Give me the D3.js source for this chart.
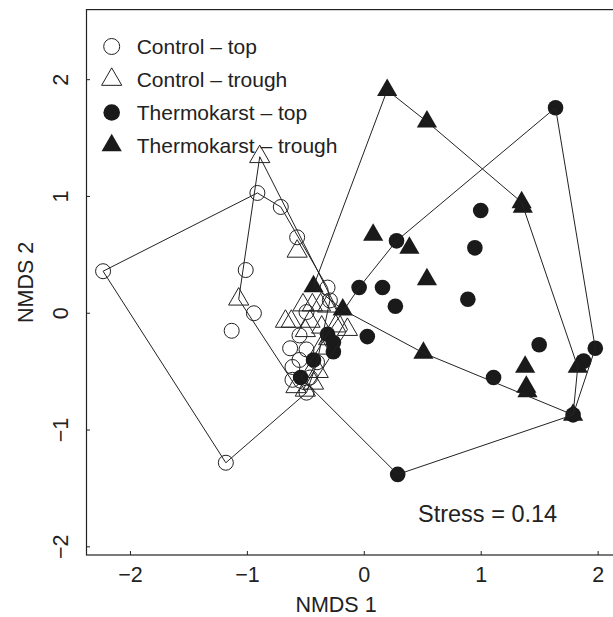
<!DOCTYPE html>
<html>
<head>
<meta charset="utf-8">
<script src="https://cdn.jsdelivr.net/npm/d3@7"></script>
<style>
  body { margin: 0; background: #fff; }
  text { font-family: 'Liberation Sans', Arial, sans-serif; fill: #222; }
  .hull { fill: none; stroke: #222; stroke-width: 1; }
</style>
</head>
<body>
<div id="vis"></div>
<script>

var width = 613,
  height = 617;

var fontSize = 21,
  axisFontSize = 21.5,
  stressFontSize = 23.5;

// NMDS scores, [ NMDS 1, NMDS 2 ]
var controlTop = [
  [ -2.23, 0.36 ], [ -0.91, 1.03 ], [ -0.71, 0.91 ], [ -0.57, 0.65 ], [ -1.01, 0.37 ],
  [ -0.94, 0.00 ], [ -1.13, -0.15 ], [ -1.18, -1.28 ], [ -0.31, 0.22 ], [ -0.29, 0.11 ],
  [ -0.49, 0.01 ], [ -0.55, -0.19 ], [ -0.63, -0.30 ], [ -0.49, -0.31 ], [ -0.61, -0.46 ],
  [ -0.61, -0.57 ], [ -0.46, -0.55 ], [ -0.49, -0.68 ], [ -0.40, -0.42 ], [ -0.55, -0.40 ]
];

var controlTrough = [
  [ -0.89, 1.34 ], [ -0.57, 0.53 ], [ -1.07, 0.12 ], [ -0.52, 0.07 ], [ -0.44, 0.07 ],
  [ -0.37, 0.07 ], [ -0.31, 0.06 ], [ -0.67, -0.07 ], [ -0.62, -0.07 ], [ -0.46, -0.07 ],
  [ -0.14, -0.14 ], [ -0.24, -0.11 ], [ -0.36, -0.12 ], [ -0.37, -0.30 ], [ -0.39, -0.50 ],
  [ -0.50, -0.66 ], [ -0.58, -0.63 ], [ -0.43, -0.60 ], [ -0.30, -0.22 ], [ -0.50, -0.15 ]
];

var thermoTop = [
  [ 1.64, 1.76 ], [ 1.00, 0.88 ], [ 0.95, 0.56 ], [ 0.28, 0.62 ], [ -0.04, 0.22 ],
  [ 0.16, 0.22 ], [ 0.27, 0.06 ], [ 0.89, 0.12 ], [ 0.03, -0.20 ], [ 1.50, -0.27 ],
  [ 1.98, -0.30 ], [ 1.88, -0.41 ], [ 1.11, -0.55 ], [ 1.79, -0.87 ], [ 0.29, -1.38 ],
  [ -0.54, -0.55 ], [ -0.43, -0.40 ], [ -0.31, -0.18 ], [ -0.26, -0.25 ], [ -0.26, -0.33 ]
];

var thermoTrough = [
  [ 0.20, 1.91 ], [ 0.54, 1.64 ], [ 1.35, 0.95 ], [ 1.36, 0.91 ], [ 0.08, 0.67 ],
  [ 0.39, 0.56 ], [ 0.54, 0.29 ], [ -0.43, 0.23 ], [ -0.18, 0.03 ], [ 0.51, -0.34 ],
  [ 1.38, -0.46 ], [ 1.39, -0.63 ], [ 1.40, -0.67 ], [ 1.83, -0.46 ], [ 1.79, -0.87 ]
];

var xTicks = [ -2, -1, 0, 1, 2 ],
  yTicks = [ -2, -1, 0, 1, 2 ];

var legendLabels = [ 'Control \u2013 top', 'Control \u2013 trough', 'Thermokarst \u2013 top', 'Thermokarst \u2013 trough' ];

var stressLabel = 'Stress = 0.14';

/* Scales */

var x = d3.scaleLinear()
  .domain( [ -2.376, 2.14 ] )
  .range( [ 86, 614 ] );

var y = d3.scaleLinear()
  .domain( [ -2.07, 2.6 ] )
  .range( [ 555, 9.6 ] );

var tickFmt = d3.format( 'd' );

// R style pch 1/2 sizes
var circleR = 7.5,
  triR = 7.5 * 1.555,
  triangle = d3.symbol().type( d3.symbolTriangle ).size( Math.sqrt( 3 ) / 4 * 3 * triR * triR );

var groups = [
  { pts: controlTop, shape: 'circle', fill: 'none' },
  { pts: controlTrough, shape: 'triangle', fill: 'none' },
  { pts: thermoTop, shape: 'circle', fill: '#1a1a1a' },
  { pts: thermoTrough, shape: 'triangle', fill: '#1a1a1a' }
];

/* Drawing */

var svg = d3.select( '#vis' ).append( 'svg' )
  .attr( 'width', width )
  .attr( 'height', height );

// box
svg.append( 'rect' )
  .attr( 'x', x.range()[ 0 ] + 0.5 )
  .attr( 'y', y.range()[ 1 ] )
  .attr( 'width', x.range()[ 1 ] - x.range()[ 0 ] )
  .attr( 'height', y.range()[ 0 ] - y.range()[ 1 ] )
  .attr( 'fill', 'none' )
  .attr( 'stroke', '#222' )
  .attr( 'stroke-width', 1.2 );

// x axis
var xAxis = svg.append( 'g' )
  .attr( 'transform', 'translate(0,' + y.range()[ 0 ] + ')' )
  .call( d3.axisBottom( x ).tickValues( xTicks ).tickFormat( tickFmt ).tickSizeInner( -4 ).tickSizeOuter( 0 ).tickPadding( 12 ) );

xAxis.select( '.domain' ).remove();
xAxis.selectAll( 'line' ).attr( 'stroke', '#222' );
xAxis.selectAll( 'text' )
  .attr( 'fill', '#222' )
  .style( 'font-size', axisFontSize + 'px' )
  .style( 'font-family', "'Liberation Sans', Arial, sans-serif" );

// y axis, labels parallel to the axis
svg.selectAll( 'line.ytick' )
  .data( yTicks )
  .enter().append( 'line' )
    .attr( 'class', 'ytick' )
    .attr( 'x1', x.range()[ 0 ] )
    .attr( 'x2', x.range()[ 0 ] + 4 )
    .attr( 'y1', d => y( d ) )
    .attr( 'y2', d => y( d ) )
    .attr( 'stroke', '#222' );

svg.selectAll( 'text.ytick' )
  .data( yTicks )
  .enter().append( 'text' )
    .attr( 'class', 'ytick' )
    .attr( 'transform', d => 'translate(68,' + y( d ) + ')rotate(-90)' )
    .attr( 'text-anchor', 'middle' )
    .style( 'font-size', axisFontSize + 'px' )
    .text( d => tickFmt( d ) );

svg.append( 'text' )
  .attr( 'x', ( x.range()[ 0 ] + x.range()[ 1 ] ) / 2 - 14 )
  .attr( 'y', 612 )
  .attr( 'text-anchor', 'middle' )
  .style( 'font-size', axisFontSize + 'px' )
  .text( 'NMDS 1' );

svg.append( 'text' )
  .attr( 'transform', 'translate(33,' + ( y.range()[ 0 ] + y.range()[ 1 ] ) / 2 + ')rotate(-90)' )
  .attr( 'text-anchor', 'middle' )
  .style( 'font-size', axisFontSize + 'px' )
  .text( 'NMDS 2' );

// points
groups.forEach( g => {

  var sel = svg.append( 'g' ).selectAll( 'path' )
    .data( g.pts )
    .enter();

  if ( g.shape === 'circle' ) {
    sel.append( 'circle' )
      .attr( 'cx', d => x( d[ 0 ] ) )
      .attr( 'cy', d => y( d[ 1 ] ) )
      .attr( 'r', g.fill === 'none' ? circleR : circleR + 0.3 )
      .attr( 'fill', g.fill )
      .attr( 'stroke', g.fill === 'none' ? '#222' : 'none' );
  } else {
    sel.append( 'path' )
      .attr( 'd', triangle )
      .attr( 'transform', d => 'translate(' + x( d[ 0 ] ) + ',' + y( d[ 1 ] ) + ')' )
      .attr( 'fill', g.fill )
      .attr( 'stroke', g.fill === 'none' ? '#222' : 'none' );
  }

} );

// hulls
groups.forEach( g => {
  var hull = d3.polygonHull( g.pts.map( d => [ x( d[ 0 ] ), y( d[ 1 ] ) ] ) );
  svg.append( 'path' )
    .attr( 'class', 'hull' )
    .attr( 'd', 'M' + hull.join( 'L' ) + 'Z' );
} );

// legend
var legend = svg.selectAll( 'g.legend' )
  .data( groups )
  .enter().append( 'g' )
    .attr( 'class', 'legend' )
    .attr( 'transform', ( d, i ) => 'translate(111.7,' + ( 46.5 + i * 33 ) + ')' );

legend.filter( d => d.shape === 'circle' ).append( 'circle' )
  .attr( 'r', d => d.fill === 'none' ? circleR + 0.5 : circleR + 0.8 )
  .attr( 'fill', d => d.fill )
  .attr( 'stroke', d => d.fill === 'none' ? '#222' : 'none' );

legend.filter( d => d.shape === 'triangle' ).append( 'path' )
  .attr( 'd', triangle )
  .attr( 'fill', d => d.fill )
  .attr( 'stroke', d => d.fill === 'none' ? '#222' : 'none' );

legend.append( 'text' )
  .attr( 'x', 25 )
  .attr( 'y', 7.5 )
  .style( 'font-size', fontSize + 'px' )
  .text( ( d, i ) => legendLabels[ i ] );

svg.append( 'text' )
  .attr( 'x', 418 )
  .attr( 'y', 522 )
  .style( 'font-size', stressFontSize + 'px' )
  .text( stressLabel );

</script>
</body>
</html>
